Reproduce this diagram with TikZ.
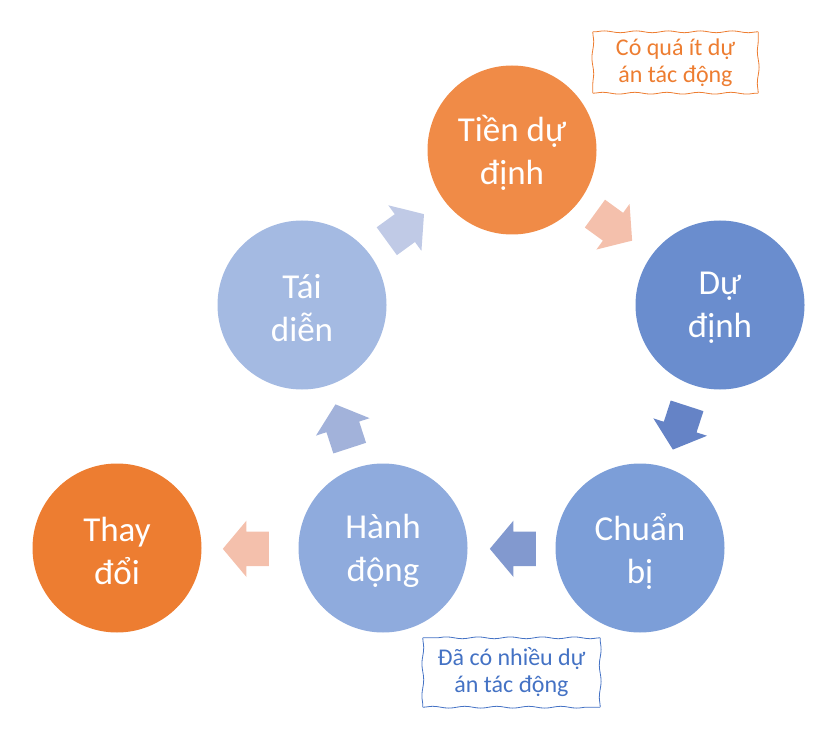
\documentclass[tikz,border=0pt]{standalone}
\usepackage{fontspec}
\setmainfont{Carlito}
\usetikzlibrary{calc,shapes.arrows,decorations.pathmorphing}
\definecolor{tienCol}{RGB}{240,139,71}
\definecolor{thayCol}{RGB}{237,125,49}
\definecolor{duCol}{RGB}{106,141,206}
\definecolor{chuanCol}{RGB}{124,158,216}
\definecolor{hanhCol}{RGB}{143,171,221}
\definecolor{taiCol}{RGB}{164,186,226}
\definecolor{peachCol}{RGB}{244,192,172}
\definecolor{noteBlue}{RGB}{68,114,196}

\begin{document}
\begin{tikzpicture}[x=1pt,y=1pt,
	stage/.style={circle, minimum size=169pt, inner sep=0pt},
	stagetext/.style={text=white, align=center, font=\fontsize{35}{43}\selectfont},
	blockarrow/.style={single arrow, anchor=tail, minimum height=46pt, text width=0pt, text height=17pt, text depth=17pt, inner sep=0pt, single arrow head extend=11pt, single arrow tip angle=100},
	note/.style={align=center, inner sep=0pt, font=\fontsize{24}{27}\selectfont},
	wavy/.style={line width=0.8pt, decorate, decoration={snake, segment length=32pt, amplitude=0.9pt}}]
	%%%%% START %%%%%
	\useasboundingbox (0,0) rectangle (837,740);
	
	\node[stage, fill=tienCol] (tien) at (512, 590) {};
	\node[stage, fill=duCol] (du) at (720, 435) {};
	\node[stage, fill=chuanCol] (chuan) at (640, 192) {};
	\node[stage, fill=hanhCol] (hanh) at (383, 192) {};
	\node[stage, fill=taiCol] (tai) at (302, 435) {};
	\node[stage, fill=thayCol] (thay) at (117, 192) {};
	
	\node[stagetext] at ([yshift=-3pt]tien.center) {Tiền dự\\định};
	\node[stagetext] at ([yshift=-3pt]du.center) {Dự\\định};
	\node[stagetext] at ([yshift=-3pt]chuan.center) {Chuẩn\\bị};
	\node[stagetext] at ([yshift=-3pt]hanh.center) {Hành\\động};
	\node[stagetext] at ([yshift=-3pt]tai.center) {Tái\\diễn};
	\node[stagetext] at ([yshift=-3pt]thay.center) {Thay\\đổi};
	
	% arrow middles
	\coordinate (m1) at ($(tai)!0.5!(tien)+(-2,0)$);
	\coordinate (m2) at ($(tien)!0.5!(du)+(-3,0)$);
	\coordinate (m3) at ($(du)!0.5!(chuan)+(0,-1)$);
	\coordinate (m4) at ($(chuan)!0.5!(hanh)+(1.5,-1)$);
	\coordinate (m5) at ($(hanh)!0.5!(tai)$);
	\coordinate (m6) at ($(hanh)!0.5!(thay)+(-4,-1)$);
	
	\node[blockarrow, fill={rgb,255:red,192;green,202;blue,230}, rotate=36] (taiTien) at ($(m1)!23pt!(tai)$) {};
	\node[blockarrow, fill=peachCol, rotate=-36] (tienDu) at ($(m2)!23pt!(tien)$) {};
	\node[blockarrow, fill={rgb,255:red,101;green,131;blue,198}, rotate=-108] (duChuan) at ($(m3)!23pt!(du)$) {};
	\node[blockarrow, fill={rgb,255:red,130;green,153;blue,207}, rotate=180] (chuanHanh) at ($(m4)!23pt!(chuan)$) {};
	\node[blockarrow, fill={rgb,255:red,162;green,178;blue,218}, rotate=108] (hanhTai) at ($(m5)!23pt!(hanh)$) {};
	\node[blockarrow, fill=peachCol, rotate=180] (hanhThay) at ($(m6)!23pt!(hanh)$) {};
	
	\node[note, text=thayCol, minimum width=165pt, minimum height=61pt] (itNote) at (675.5, 677.5) {Có quá ít dự\\án tác động};
	\draw[wavy, draw=thayCol] (itNote.south west) -- (itNote.south east);
	\draw[wavy, draw=thayCol] (itNote.south east) -- (itNote.north east);
	\draw[wavy, draw=thayCol] (itNote.north east) -- (itNote.north west);
	\draw[wavy, draw=thayCol] (itNote.north west) -- (itNote.south west);
	
	\node[note, text=noteBlue, minimum width=177pt, minimum height=69pt] (nhieuNote) at (511.5, 67.5) {Đã có nhiều dự\\án tác động};
	\draw[wavy, draw=noteBlue] (nhieuNote.south west) -- (nhieuNote.south east);
	\draw[wavy, draw=noteBlue] (nhieuNote.south east) -- (nhieuNote.north east);
	\draw[wavy, draw=noteBlue] (nhieuNote.north east) -- (nhieuNote.north west);
	\draw[wavy, draw=noteBlue] (nhieuNote.north west) -- (nhieuNote.south west);
	
	%%%%% END %%%%%
\end{tikzpicture}
\end{document}
